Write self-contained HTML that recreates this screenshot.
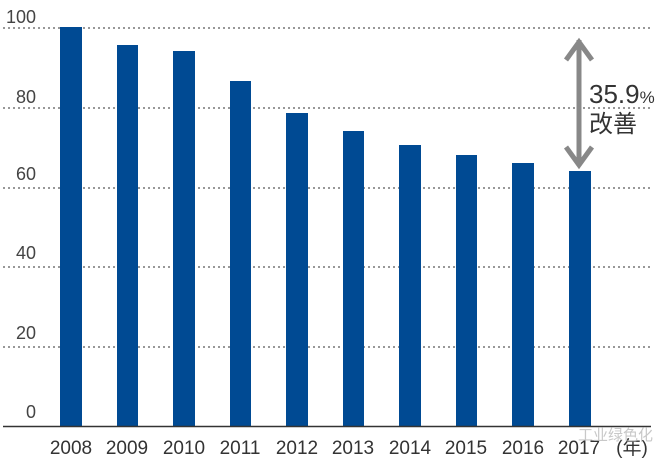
<!DOCTYPE html>
<html><head><meta charset="utf-8"><style>
html,body{margin:0;padding:0;background:#fff;}
svg{display:block;}
text{font-family:"Liberation Sans","Noto Sans CJK SC",sans-serif;}
</style></head><body>
<svg width="672" height="466" viewBox="0 0 672 466">
<g stroke="#777" stroke-width="1.5" stroke-dasharray="2,3">
<line x1="3" y1="28" x2="651" y2="28"/>
<line x1="3" y1="108" x2="651" y2="108"/>
<line x1="3" y1="188" x2="651" y2="188"/>
<line x1="3" y1="267" x2="651" y2="267"/>
<line x1="3" y1="347" x2="651" y2="347"/>
</g>
<g fill="#444" font-size="18" text-anchor="end">
<text x="36" y="23">100</text>
<text x="36" y="127" dy="-24">80</text>
<text x="36" y="180">60</text>
<text x="36" y="259">40</text>
<text x="36" y="339">20</text>
<text x="36" y="418">0</text>
</g>
<g fill="#004a93">
<rect x="60" y="27" width="22" height="399"/>
<rect x="117" y="45" width="21" height="381"/>
<rect x="173" y="51" width="22" height="375"/>
<rect x="230" y="81" width="21" height="345"/>
<rect x="286" y="113" width="22" height="313"/>
<rect x="343" y="131" width="21" height="295"/>
<rect x="399" y="145" width="22" height="281"/>
<rect x="456" y="155" width="21" height="271"/>
<rect x="512" y="163" width="22" height="263"/>
<rect x="569" y="171" width="22" height="255"/>
</g>
<line x1="3" y1="426.5" x2="651" y2="426.5" stroke="#333" stroke-width="1.5"/>
<g fill="#333" font-size="19" text-anchor="middle">
<text x="71" y="454">2008</text>
<text x="127" y="454">2009</text>
<text x="184" y="454">2010</text>
<text x="240" y="454">2011</text>
<text x="297" y="454">2012</text>
<text x="353" y="454">2013</text>
<text x="410" y="454">2014</text>
<text x="466" y="454">2015</text>
<text x="523" y="454">2016</text>
<text x="579" y="454">2017</text>
<text x="632" y="454">(年)</text>
</g>
<g stroke="#888" stroke-width="5" fill="none">
<line x1="579" y1="40" x2="579" y2="166"/>
<polyline points="566,60 579,42 592,60"/>
<polyline points="566,147 579,165 592,147"/>
</g>
<text x="589" y="103" font-size="26" fill="#333">35.9<tspan font-size="17">%</tspan></text>
<text x="589" y="132" font-size="24" fill="#333">改善</text>
<text x="578" y="440" font-size="15" fill="#bbb" opacity="0.8">工业绿色化</text>
</svg>
</body></html>
